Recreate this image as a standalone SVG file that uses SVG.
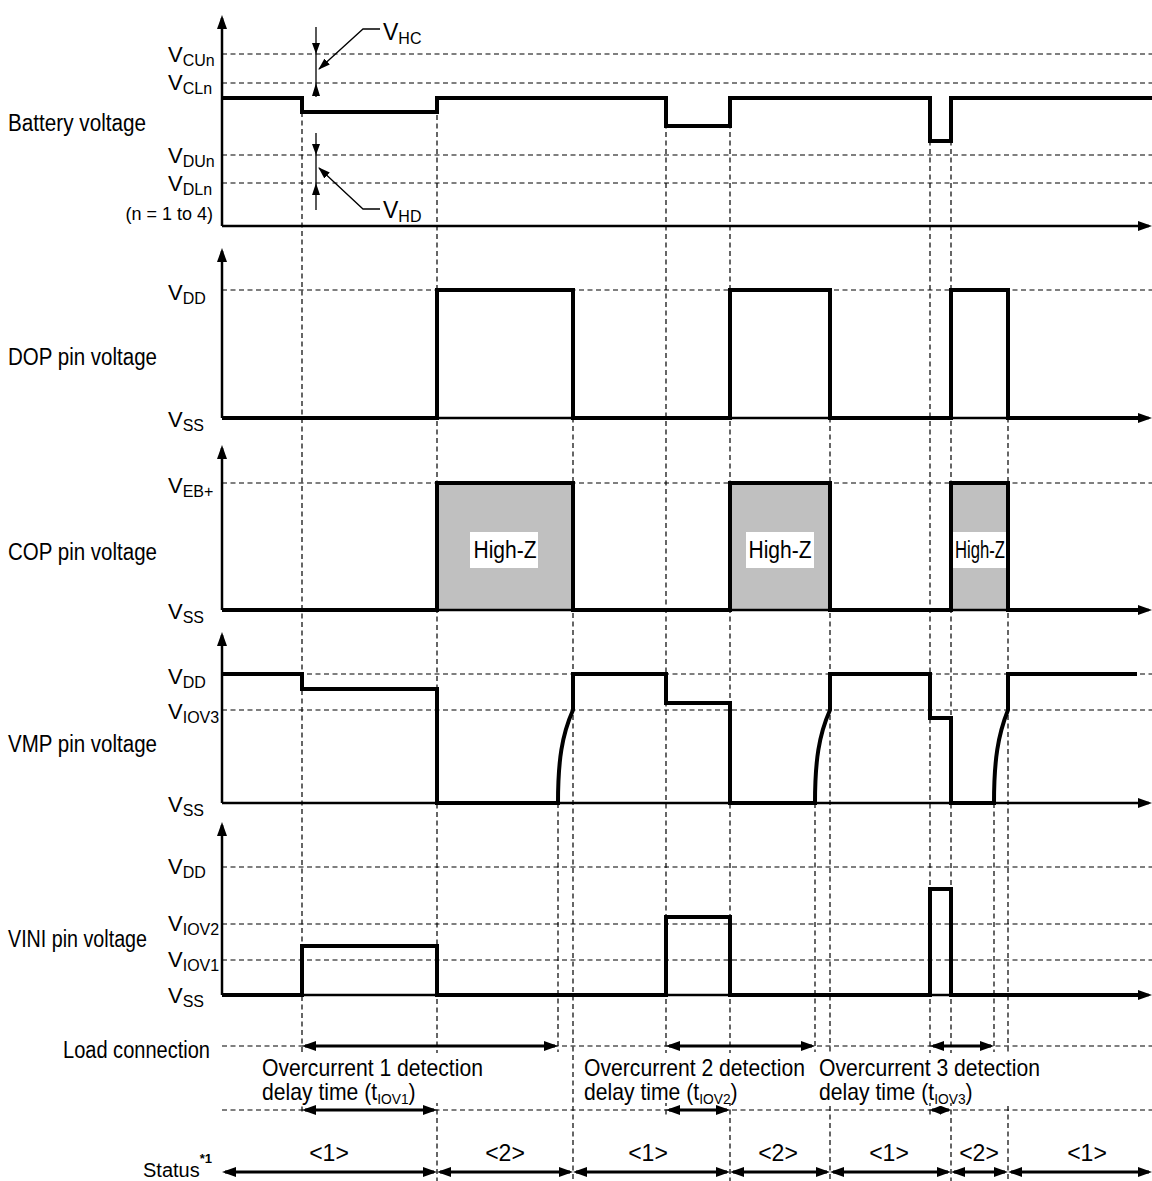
<svg xmlns="http://www.w3.org/2000/svg" width="1152" height="1181" viewBox="0 0 1152 1181">
<defs>
<style>
text{font-family:"Liberation Sans",Arial,sans-serif;fill:#000}
.lbl{font-size:23px}
.v{font-size:22px}
.s{font-size:15px}
.ss{font-size:16px}
.wave{fill:none;stroke:#000;stroke-width:4;stroke-linejoin:miter}
.axis{fill:none;stroke:#000;stroke-width:2.5}
.dash{fill:none;stroke:#000;stroke-width:1.2;stroke-dasharray:5 3.5}
.arr{fill:none;stroke:#000;stroke-width:3}
.thin{fill:none;stroke:#000;stroke-width:1.3}
.hz{fill:#c0c0c0;stroke:none}
.wb{fill:#fff;stroke:none}
</style>
<marker id="ax" markerUnits="userSpaceOnUse" markerWidth="14" markerHeight="10" viewBox="0 0 14 10" refX="11" refY="5" orient="auto"><path d="M0,0 L14,5 L0,10 Z"/></marker>
<marker id="ar" markerUnits="userSpaceOnUse" markerWidth="14" markerHeight="10" viewBox="0 0 14 10" refX="11" refY="5" orient="auto-start-reverse"><path d="M0,0 L14,5 L0,10 Z"/></marker>
<marker id="ars" markerUnits="userSpaceOnUse" markerWidth="11" markerHeight="9" viewBox="0 0 11 9" refX="9" refY="4.5" orient="auto-start-reverse"><path d="M0,0 L11,4.5 L0,9 Z"/></marker>
<marker id="sm" markerUnits="userSpaceOnUse" markerWidth="12" markerHeight="8" viewBox="0 0 12 8" refX="11" refY="4" orient="auto"><path d="M0,0 L12,4 L0,8 Z"/></marker>
</defs>
<rect width="1152" height="1181" fill="#fff"/>

<g id="grid">
<path class="dash" d="M222,54H1152M222,83H1152M222,155H1152M222,183H1152"/>
<path class="dash" d="M222,290H1152M222,483H1152M222,674H1152M222,710H1152M222,867H1152M222,924H1152M222,960H1152"/>
<path class="dash" d="M222,1046H1152M222,1110H1152"/>
<path class="dash" d="M302,112V1115M437,98V1181M558,803V1052M573,290V1181M666,98V1115M730,98V1181M815,803V1052M830,290V1181M930,98V1115M951,98V1181M994,803V1052M1008,290V1181"/>
</g>

<g id="cop-fill">
<rect class="hz" x="437" y="483" width="136" height="127"/>
<rect class="hz" x="730" y="483" width="100" height="127"/>
<rect class="hz" x="951" y="483" width="57" height="127"/>
</g>

<g id="axes">
<path class="axis" d="M222,226V18" marker-end="url(#ax)"/>
<path class="axis" d="M222,226H1149" marker-end="url(#ax)"/>
<path class="axis" d="M222,418V251" marker-end="url(#ax)"/>
<path class="axis" d="M222,418H1149" marker-end="url(#ax)"/>
<path class="axis" d="M222,610V448" marker-end="url(#ax)"/>
<path class="axis" d="M222,610H1149" marker-end="url(#ax)"/>
<path class="axis" d="M222,803V635" marker-end="url(#ax)"/>
<path class="axis" d="M222,803H1149" marker-end="url(#ax)"/>
<path class="axis" d="M222,995V825" marker-end="url(#ax)"/>
<path class="axis" d="M222,995H1149" marker-end="url(#ax)"/>
</g>

<g id="battery">
<path class="wave" d="M222,98H302V112H437V98H666V126H730V98H930V141H951V98H1152"/>
<text class="lbl" x="8" y="131" textLength="138" lengthAdjust="spacingAndGlyphs">Battery voltage</text>
<text x="213" y="220" text-anchor="end" style="font-size:18px">(n = 1 to 4)</text>
<text class="v" x="168" y="62">V<tspan class="ss" dy="4">CUn</tspan></text>
<text class="v" x="168" y="90">V<tspan class="ss" dy="4">CLn</tspan></text>
<text class="v" x="168" y="163">V<tspan class="ss" dy="4">DUn</tspan></text>
<text class="v" x="168" y="191">V<tspan class="ss" dy="4">DLn</tspan></text>
</g>

<g id="hysteresis">
<path class="thin" d="M316,27V97M316,133V210"/>
<path d="M312,43H320L316,54ZM312,96H320L316,83ZM312,144H320L316,155ZM312,195H320L316,183Z"/>
<path class="thin" d="M380,29H363L319,69" marker-end="url(#sm)"/>
<path class="thin" d="M380,209H363L319,168" marker-end="url(#sm)"/>
<text class="v" x="383" y="40" style="font-size:23px">V<tspan class="ss" dy="4">HC</tspan></text>
<text class="v" x="383" y="218" style="font-size:23px">V<tspan class="ss" dy="4">HD</tspan></text>
</g>

<g id="dop">
<path class="wave" d="M222,418H437V290H573V418H730V290H830V418H951V290H1008V418H1140"/>
<text class="lbl" x="8" y="365" textLength="149" lengthAdjust="spacingAndGlyphs">DOP pin voltage</text>
<text class="v" x="168" y="300">V<tspan class="ss" dy="4">DD</tspan></text>
<text class="v" x="168" y="427">V<tspan class="ss" dy="4">SS</tspan></text>
</g>

<g id="cop">
<path class="wave" d="M222,610H437V483H573V610H730V483H830V610H951V483H1008V610H1140"/>
<rect class="wb" x="470" y="532" width="68" height="36"/>
<text class="lbl" x="505" y="558" text-anchor="middle" textLength="63" lengthAdjust="spacingAndGlyphs">High-Z</text>
<rect class="wb" x="746" y="532" width="68" height="36"/>
<text class="lbl" x="780" y="558" text-anchor="middle" textLength="63" lengthAdjust="spacingAndGlyphs">High-Z</text>
<rect class="wb" x="953" y="532" width="53" height="36"/>
<text class="lbl" x="980" y="558" text-anchor="middle" textLength="50" lengthAdjust="spacingAndGlyphs">High-Z</text>
<text class="lbl" x="8" y="560" textLength="149" lengthAdjust="spacingAndGlyphs">COP pin voltage</text>
<text class="v" x="168" y="493">V<tspan class="ss" dy="4">EB+</tspan></text>
<text class="v" x="168" y="619">V<tspan class="ss" dy="4">SS</tspan></text>
</g>

<g id="vmp">
<path class="wave" d="M222,674H302V689H437V803H558C558,760 562,735 573,710V674H666V703H730V803H815C815,760 819,735 830,710V674H930V718H951V803H994C994,760 998,735 1008,710V674H1137"/>
<text class="lbl" x="8" y="752" textLength="149" lengthAdjust="spacingAndGlyphs">VMP pin voltage</text>
<text class="v" x="168" y="684">V<tspan class="ss" dy="4">DD</tspan></text>
<text class="v" x="168" y="719">V<tspan class="ss" dy="4">IOV3</tspan></text>
<text class="v" x="168" y="812">V<tspan class="ss" dy="4">SS</tspan></text>
</g>

<g id="vini">
<path class="wave" d="M222,995H302V946H437V995H666V917H730V995H930V889H951V995H1140"/>
<text class="lbl" x="8" y="947" textLength="139" lengthAdjust="spacingAndGlyphs">VINI pin voltage</text>
<text class="v" x="168" y="874">V<tspan class="ss" dy="4">DD</tspan></text>
<text class="v" x="168" y="931">V<tspan class="ss" dy="4">IOV2</tspan></text>
<text class="v" x="168" y="967">V<tspan class="ss" dy="4">IOV1</tspan></text>
<text class="v" x="168" y="1003">V<tspan class="ss" dy="4">SS</tspan></text>
</g>

<g id="connectors">
<path class="arr" d="M305,1046H555" marker-start="url(#ar)" marker-end="url(#ar)"/>
<path class="arr" d="M669,1046H812" marker-start="url(#ar)" marker-end="url(#ar)"/>
<path class="arr" d="M933,1046H991" marker-start="url(#ar)" marker-end="url(#ar)"/>
<path class="arr" d="M305,1110H434" marker-start="url(#ar)" marker-end="url(#ar)"/>
<path class="arr" d="M669,1110H727" marker-start="url(#ar)" marker-end="url(#ar)"/>
<path class="arr" d="M932,1110H949" marker-start="url(#ars)" marker-end="url(#ars)"/>
<path class="arr" d="M225,1172H434" marker-start="url(#ar)" marker-end="url(#ar)"/>
<path class="arr" d="M440,1172H570" marker-start="url(#ar)" marker-end="url(#ar)"/>
<path class="arr" d="M576,1172H727" marker-start="url(#ar)" marker-end="url(#ar)"/>
<path class="arr" d="M733,1172H827" marker-start="url(#ar)" marker-end="url(#ar)"/>
<path class="arr" d="M833,1172H948" marker-start="url(#ar)" marker-end="url(#ar)"/>
<path class="arr" d="M954,1172H1005" marker-start="url(#ar)" marker-end="url(#ar)"/>
<path class="arr" d="M1011,1172H1149" marker-start="url(#ar)" marker-end="url(#ar)"/>
</g>

<g id="timing-labels">
<rect class="wb" x="256" y="1053" width="232" height="50"/>
<rect class="wb" x="578" y="1053" width="232" height="50"/>
<rect class="wb" x="814" y="1053" width="232" height="50"/>
<text class="lbl" x="63" y="1058" textLength="147" lengthAdjust="spacingAndGlyphs">Load connection</text>
<g transform="translate(262,0) scale(0.92,1)">
<text class="lbl" x="0" y="1076">Overcurrent 1 detection</text>
<text class="lbl" x="0" y="1100">delay time (t<tspan class="s" dy="4">IOV1</tspan><tspan dy="-4">)</tspan></text>
</g>
<g transform="translate(584,0) scale(0.92,1)">
<text class="lbl" x="0" y="1076">Overcurrent 2 detection</text>
<text class="lbl" x="0" y="1100">delay time (t<tspan class="s" dy="4">IOV2</tspan><tspan dy="-4">)</tspan></text>
</g>
<g transform="translate(819,0) scale(0.92,1)">
<text class="lbl" x="0" y="1076">Overcurrent 3 detection</text>
<text class="lbl" x="0" y="1100">delay time (t<tspan class="s" dy="4">IOV3</tspan><tspan dy="-4">)</tspan></text>
</g>
</g>

<g id="status">
<text x="143" y="1177" style="font-size:20px">Status<tspan dy="-14" style="font-size:13px;font-weight:bold">*1</tspan></text>
<text class="lbl" x="329" y="1161" text-anchor="middle">&lt;1&gt;</text>
<text class="lbl" x="505" y="1161" text-anchor="middle">&lt;2&gt;</text>
<text class="lbl" x="648" y="1161" text-anchor="middle">&lt;1&gt;</text>
<text class="lbl" x="778" y="1161" text-anchor="middle">&lt;2&gt;</text>
<text class="lbl" x="889" y="1161" text-anchor="middle">&lt;1&gt;</text>
<text class="lbl" x="979" y="1161" text-anchor="middle">&lt;2&gt;</text>
<text class="lbl" x="1087" y="1161" text-anchor="middle">&lt;1&gt;</text>
</g>
</svg>
